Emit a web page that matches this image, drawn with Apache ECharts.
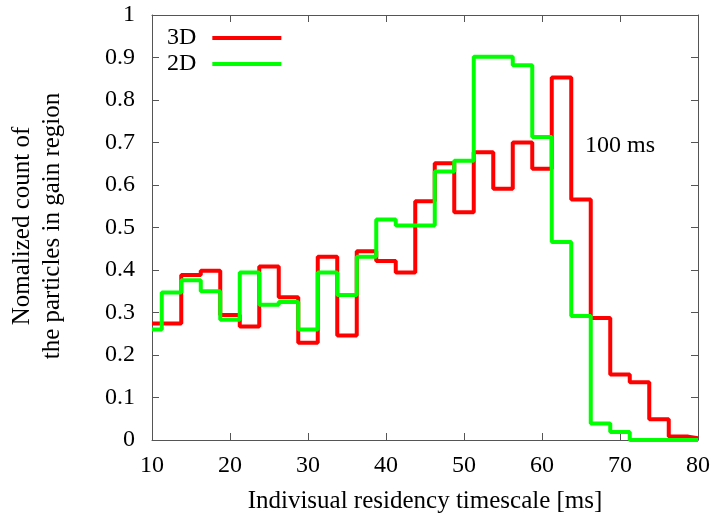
<!DOCTYPE html>
<html>
<head>
<meta charset="utf-8">
<script src="https://cdn.jsdelivr.net/npm/echarts@6/dist/echarts.min.js"></script>
<style>
  html, body { margin: 0; padding: 0; background: #fff; }
  #chart { width: 715px; height: 519px; }
</style>
</head>
<body>
<div id="chart"></div>
<script>
// Residency timescale bins (ms), one value per histogram step
const timescale = [10, 12.5, 15, 17.5, 20, 22.5, 25, 27.5, 30, 32.5, 35, 37.5, 40, 42.5, 45,
  47.5, 50, 52.5, 55, 57.5, 60, 62.5, 65, 67.5, 70, 72.5, 75, 77.5, 80];

// Normalized particle counts in the gain region
const count3D = [0.274, 0.274, 0.388, 0.398, 0.294, 0.267, 0.408, 0.336, 0.229, 0.431,
  0.246, 0.444, 0.421, 0.394, 0.562, 0.651, 0.536, 0.677, 0.591, 0.700,
  0.638, 0.853, 0.566, 0.287, 0.154, 0.136, 0.049, 0.008, 0.004];
const count2D = [0.260, 0.347, 0.376, 0.350, 0.283, 0.394, 0.318, 0.325, 0.260, 0.394,
  0.341, 0.431, 0.519, 0.505, 0.505, 0.632, 0.657, 0.902, 0.902, 0.882,
  0.713, 0.466, 0.292, 0.039, 0.019, 0, 0, 0, 0];

// Tick values
const xTicks = [10, 20, 30, 40, 50, 60, 70, 80];
const yTicks = [0, 0.1, 0.2, 0.3, 0.4, 0.5, 0.6, 0.7, 0.8, 0.9, 1];

const seriesNames = ['3D', '2D'];
const annotation = '100 ms';
const xTitle = 'Indivisual residency timescale [ms]';
const yTitle = 'Nomalized count of\nthe particles in gain region';

const FONT = '"Liberation Serif", "DejaVu Serif", serif';
const AXIS_COLOR = '#555';

const pairs = (xs, ys) => xs.map((x, i) => [x, ys[i]]);

const xRange = { min: xTicks[0], max: xTicks[xTicks.length - 1], interval: xTicks[1] - xTicks[0] };
const yRange = { min: yTicks[0], max: yTicks[yTicks.length - 1], interval: 0.1 };

const baseAxisLine = { show: true, onZero: false, lineStyle: { color: AXIS_COLOR, width: 1 } };
const inTicks = { show: true, inside: true, length: 7, lineStyle: { color: AXIS_COLOR, width: 1 } };

const chart = echarts.init(document.getElementById('chart'));

chart.setOption({
  backgroundColor: '#fff',
  animation: false,
  grid: { left: 152, right: 17, top: 15, bottom: 79 },
  legend: {
    data: seriesNames,
    orient: 'vertical',
    left: 162,
    top: 21,
    align: 'right',
    icon: 'rect',
    itemWidth: 69,
    itemHeight: 4,
    itemGap: 2,
    selectedMode: false,
    textStyle: { fontFamily: FONT, fontSize: 24, color: '#000', lineHeight: 24, padding: [0, 11, 0, 0] }
  },
  xAxis: [
    {
      type: 'value', position: 'bottom', ...xRange,
      axisLine: baseAxisLine, axisTick: inTicks, splitLine: { show: false },
      axisLabel: { fontFamily: FONT, fontSize: 24, color: '#000', margin: 14 },
      name: xTitle, nameLocation: 'middle', nameGap: 49,
      nameTextStyle: { fontFamily: FONT, fontSize: 25, color: '#000' }
    },
    {
      type: 'value', position: 'top', ...xRange,
      axisLine: baseAxisLine, axisTick: inTicks, splitLine: { show: false },
      axisLabel: { show: false }
    }
  ],
  yAxis: [
    {
      type: 'value', position: 'left', ...yRange,
      axisLine: baseAxisLine, axisTick: inTicks, splitLine: { show: false },
      axisLabel: { fontFamily: FONT, fontSize: 24, color: '#000', margin: 17 }
    },
    {
      type: 'value', position: 'right', ...yRange,
      axisLine: baseAxisLine, axisTick: inTicks, splitLine: { show: false },
      axisLabel: { show: false }
    }
  ],
  graphic: [
    {
      type: 'text',
      x: 37, y: 226,
      rotation: Math.PI / 2,
      style: {
        text: yTitle, fontFamily: FONT, fontSize: 25, fill: '#000',
        align: 'center', verticalAlign: 'middle', lineHeight: 30
      }
    },
    {
      type: 'text',
      x: 585, y: 146,
      style: {
        text: annotation, fontFamily: FONT, fontSize: 24, fill: '#000',
        align: 'left', verticalAlign: 'middle'
      }
    }
  ],
  series: [
    {
      name: seriesNames[0], type: 'line', step: 'middle',
      data: pairs(timescale, count3D),
      showSymbol: false, symbol: 'none',
      itemStyle: { color: '#ff0000' },
      lineStyle: { color: '#ff0000', width: 4 }
    },
    {
      name: seriesNames[1], type: 'line', step: 'middle',
      data: pairs(timescale, count2D),
      showSymbol: false, symbol: 'none',
      itemStyle: { color: '#00ff00' },
      lineStyle: { color: '#00ff00', width: 4 }
    }
  ]
});
</script>
</body>
</html>
